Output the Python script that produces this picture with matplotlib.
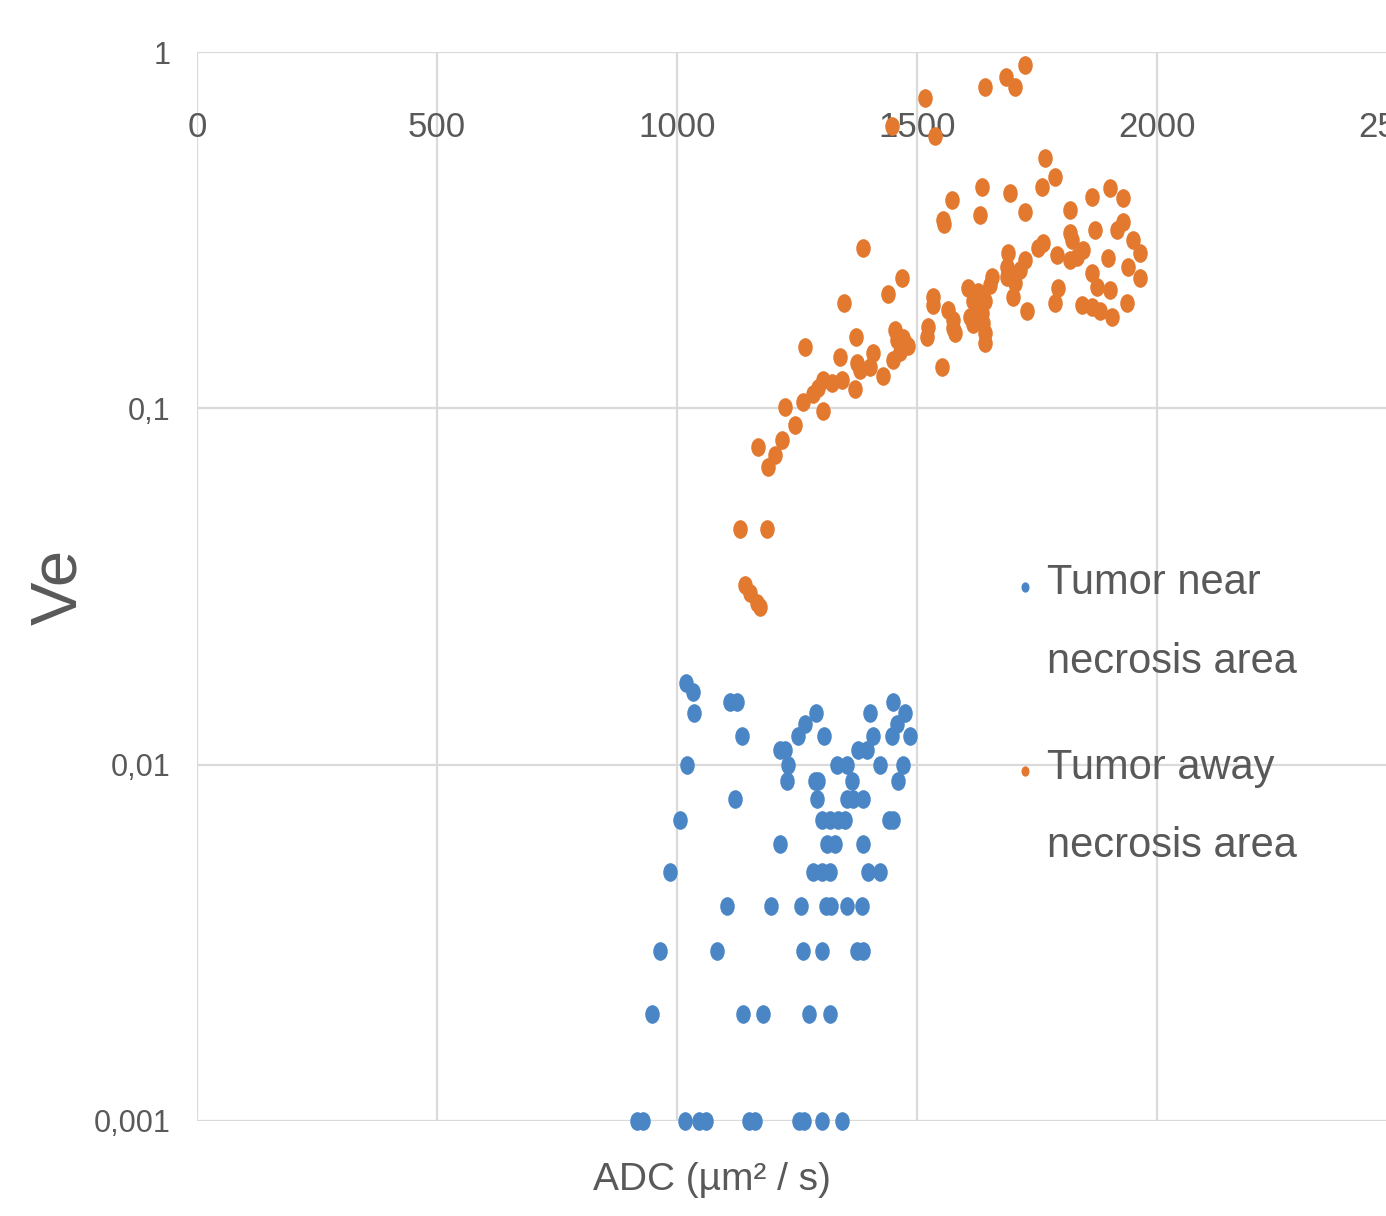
import matplotlib
matplotlib.use("Agg")
import matplotlib.pyplot as plt
from matplotlib.legend_handler import HandlerPathCollection
from matplotlib.path import Path
from matplotlib.transforms import Affine2D

FONT = ["Liberation Sans", "DejaVu Sans"]
TEXT_GREY = "#595959"
GRID_GREY = "#dadada"
BLUE = "#4a86c5"
ORANGE = "#e2792f"

# Tumor near necrosis area (one row per Ve level)
near_adc = [
    1019,
    1033,
    1110, 1125, 1450,
    1035, 1290, 1402, 1475,
    1267, 1458,
    1135, 1252, 1306, 1408, 1448, 1485,
    1215, 1225, 1377, 1396,
    1021, 1231, 1333, 1354, 1423, 1471,
    1229, 1288, 1294, 1365, 1460,
    1121, 1292, 1354, 1367, 1388,
    1006, 1302, 1319, 1336, 1350, 1442, 1450,
    1215, 1312, 1329, 1388,
    985, 1283, 1302, 1319, 1398, 1423,
    1104, 1195, 1258, 1310, 1320, 1354, 1385,
    965, 1083, 1263, 1302, 1375, 1388,
    948, 1137, 1179, 1275, 1319,
    917, 929, 1017, 1046, 1060, 1150, 1162, 1254, 1265, 1302, 1344,
]
near_ve = [
    0.017,
    0.016,
    0.015, 0.015, 0.015,
    0.014, 0.014, 0.014, 0.014,
    0.013, 0.013,
    0.012, 0.012, 0.012, 0.012, 0.012, 0.012,
    0.011, 0.011, 0.011, 0.011,
    0.010, 0.010, 0.010, 0.010, 0.010, 0.010,
    0.009, 0.009, 0.009, 0.009, 0.009,
    0.008, 0.008, 0.008, 0.008, 0.008,
    0.007, 0.007, 0.007, 0.007, 0.007, 0.007, 0.007,
    0.006, 0.006, 0.006, 0.006,
    0.005, 0.005, 0.005, 0.005, 0.005, 0.005,
    0.004, 0.004, 0.004, 0.004, 0.004, 0.004, 0.004,
    0.003, 0.003, 0.003, 0.003, 0.003, 0.003,
    0.002, 0.002, 0.002, 0.002, 0.002,
    0.001, 0.001, 0.001, 0.001, 0.001, 0.001, 0.001, 0.001, 0.001, 0.001, 0.001,
]

# Tumor away from necrosis area
away_adc = [
    1131, 1187, 1142, 1152, 1167, 1173,
    1169, 1190, 1204, 1219, 1225, 1246,
    1263, 1267, 1283, 1294, 1304, 1323,
    1344, 1304, 1340, 1348, 1373, 1375,
    1381, 1371, 1387, 1402, 1408, 1429,
    1440, 1469, 1450, 1454, 1458, 1465,
    1471, 1481, 1521, 1523, 1533, 1533,
    1552, 1556, 1565, 1575, 1575, 1579, 1475,
    1725, 1685, 1704, 1642, 1517, 1448, 1538,
    1767, 1788, 1760, 1694, 1635, 1631, 1573, 1554,
    1725, 1819, 1865, 1902, 1929, 1929, 1917,
    1950, 1965, 1871, 1819, 1823, 1898, 1940,
    1965, 1846, 1833, 1819, 1792, 1763, 1752,
    1865, 1875, 1902, 1844, 1865, 1881, 1906,
    1938, 1794, 1788, 1729, 1725, 1715, 1704,
    1700, 1690, 1688, 1688, 1656, 1652, 1627,
    1642, 1631, 1635, 1638, 1642, 1642, 1606,
    1617, 1610, 1617,
]
away_ve = [
    0.046, 0.046, 0.032, 0.0304, 0.0284, 0.0277,
    0.078, 0.0686, 0.074, 0.0816, 0.101, 0.090,
    0.104, 0.149, 0.110, 0.114, 0.120, 0.118,
    0.120, 0.098, 0.139, 0.198, 0.159, 0.134,
    0.128, 0.113, 0.282, 0.131, 0.143, 0.123,
    0.210, 0.232, 0.137, 0.166, 0.156, 0.144,
    0.158, 0.150, 0.159, 0.169, 0.205, 0.195,
    0.131, 0.330, 0.189, 0.177, 0.168, 0.163, 0.153,
    0.919, 0.851, 0.798, 0.798, 0.743, 0.620, 0.580,
    0.504, 0.446, 0.418, 0.402, 0.418, 0.349, 0.384, 0.338,
    0.356, 0.360, 0.392, 0.415, 0.389, 0.334, 0.316,
    0.297, 0.273, 0.316, 0.310, 0.297, 0.264, 0.250,
    0.232, 0.279, 0.266, 0.261, 0.270, 0.291, 0.282,
    0.240, 0.219, 0.215, 0.195, 0.192, 0.187, 0.180,
    0.198, 0.218, 0.198, 0.187, 0.261, 0.245, 0.225,
    0.205, 0.273, 0.250, 0.233, 0.233, 0.222, 0.212,
    0.200, 0.192, 0.185, 0.174, 0.163, 0.153, 0.218,
    0.200, 0.180, 0.172,
]

x_ticks = [0, 500, 1000, 1500, 2000, 2500]
x_tick_labels = ["0", "500", "1000", "1500", "2000", "2500"]
y_ticks = [0.001, 0.01, 0.1, 1]
y_tick_labels = ["0,001", "0,01", "0,1", "1"]

# the dots in the source are slightly taller than wide
dot = Path.unit_circle().transformed(Affine2D().scale(0.78, 1.0))

fig = plt.figure(figsize=(13.86, 12.16), dpi=100)
# plot area runs past the right edge of the picture, as in the source
ax = fig.add_axes([197 / 1386, 1 - 1121 / 1216, 1200 / 1386, 1069 / 1216])

sc_near = ax.scatter(near_adc, near_ve, s=180, marker=dot, color=BLUE,
                     linewidths=0, zorder=3, clip_on=False,
                     label="Tumor near\nnecrosis area")
sc_away = ax.scatter(away_adc, away_ve, s=180, marker=dot, color=ORANGE,
                     linewidths=0, zorder=3, clip_on=False,
                     label="Tumor away\nnecrosis area")

ax.set_yscale("log")
ax.set_xlim(0, 2500)
ax.set_ylim(0.001, 1)
ax.set_xticks(x_ticks)
ax.set_xticklabels(x_tick_labels)
ax.set_yticks(y_ticks)
ax.set_yticklabels(y_tick_labels)
ax.minorticks_off()

for s in ax.spines.values():
    s.set_visible(False)
ax.set_axisbelow(True)
ax.grid(True, color=GRID_GREY, linewidth=1.6)

ax.tick_params(axis="x", length=0, top=False, bottom=False,
               labeltop=True, labelbottom=False, pad=-66,
               labelsize=25, labelcolor=TEXT_GREY)
ax.tick_params(axis="y", length=0, pad=19, labelsize=22, labelcolor=TEXT_GREY)
for lab in ax.get_xticklabels() + ax.get_yticklabels():
    lab.set_family(FONT)

ax.set_xlabel("ADC (µm² / s)", fontsize=28, color=TEXT_GREY, family=FONT)
ax.xaxis.set_label_coords((712 - 197) / 1200, -0.038)
ax.set_ylabel("Ve", fontsize=47, color=TEXT_GREY, family=FONT)
ax.yaxis.set_label_coords(-0.090, 0.5)

leg = ax.legend(
    handles=[sc_near, sc_away],
    handler_map={
        sc_near: HandlerPathCollection(sizes=[55], yoffsets=[1.75]),
        sc_away: HandlerPathCollection(sizes=[55], yoffsets=[1.75]),
    },
    loc="upper left", bbox_to_anchor=(1016 / 1386, 1 - 563 / 1216),
    bbox_transform=fig.transFigure, frameon=False, borderpad=0,
    borderaxespad=0, handlelength=0.45, handletextpad=0.3,
    labelspacing=1.58, prop={"family": FONT, "size": 30},
)
for t in leg.get_texts():
    t.set_color(TEXT_GREY)
    t.set_linespacing(2.25)

fig.savefig("out.png", dpi=100)
